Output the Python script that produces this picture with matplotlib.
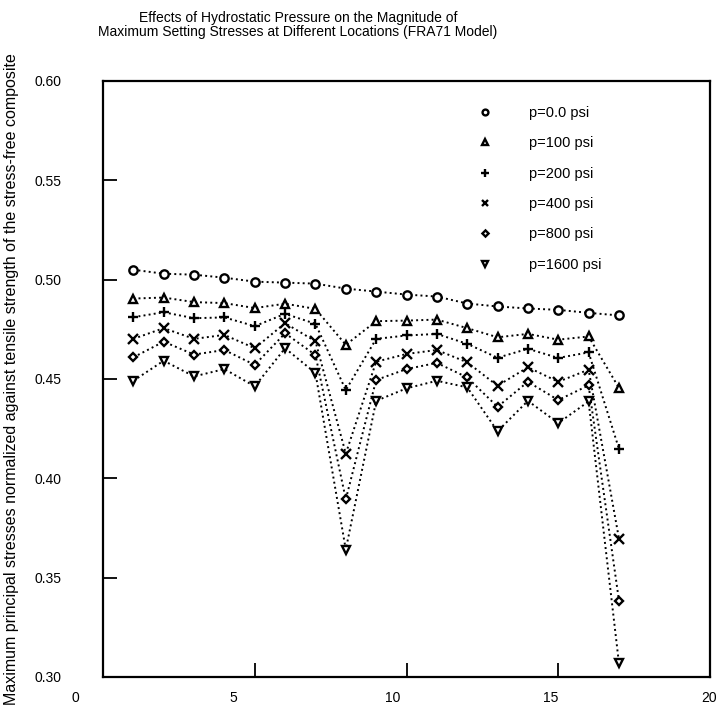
import matplotlib
matplotlib.use('Agg')
import matplotlib.pyplot as plt
from matplotlib.transforms import ScaledTranslation

plt.rcParams['font.family'] = ['Liberation Sans', 'DejaVu Sans']

# ── data ────────────────────────────────────────────────────────
locations = list(range(1, 18))

p0 = [0.505, 0.503, 0.5025, 0.501, 0.499, 0.4985, 0.498, 0.4955, 0.494,
      0.4925, 0.4915, 0.488, 0.4865, 0.4855, 0.4848, 0.4833, 0.482]
p100 = [0.4905, 0.491, 0.4887, 0.4882, 0.4857, 0.4879, 0.4853, 0.4672, 0.4791,
        0.4794, 0.4799, 0.4756, 0.471, 0.4727, 0.4698, 0.4714, 0.4455]
p200 = [0.4811, 0.4836, 0.4806, 0.481, 0.4766, 0.4828, 0.4778, 0.4444, 0.4702,
        0.4719, 0.4727, 0.4677, 0.4607, 0.4652, 0.4606, 0.4634, 0.4149]
p400 = [0.4702, 0.4756, 0.4702, 0.4722, 0.4655, 0.4781, 0.469, 0.4124, 0.4587,
        0.4626, 0.4646, 0.4584, 0.4466, 0.4559, 0.4486, 0.4547, 0.3697]
p800 = [0.4609, 0.4688, 0.4623, 0.4646, 0.4571, 0.473, 0.4621, 0.3894, 0.4495,
        0.455, 0.4581, 0.4508, 0.436, 0.4486, 0.4394, 0.4468, 0.3385]
p1600 = [0.4491, 0.4592, 0.4513, 0.455, 0.4463, 0.4655, 0.453, 0.3641, 0.439,
         0.4453, 0.4491, 0.4458, 0.4237, 0.439, 0.4278, 0.4387, 0.3069]

series = [p0, p100, p200, p400, p800, p1600]
labels = ['p=0.0 psi', 'p=100 psi', 'p=200 psi', 'p=400 psi',
          'p=800 psi', 'p=1600 psi']
markers = ['o', '^', '+', 'x', 'D', 'v']
msizes = [6, 6, 7.5, 7, 4.5, 6]

xticks = [0, 5, 10, 15, 20]
yticks = [0.30, 0.35, 0.40, 0.45, 0.50, 0.55, 0.60]

# ── figure ──────────────────────────────────────────────────────
fig = plt.figure(figsize=(7.22, 7.17), dpi=100)
ax = fig.add_axes([103/722, 1 - 677/717, 607/722, 596/717])

for vals, lab, m, ms in zip(series, labels, markers, msizes):
    ax.plot(locations, vals, linestyle=':', color='black', linewidth=1.4,
            marker=m, markersize=ms, markerfacecolor='white',
            markeredgecolor='black', markeredgewidth=1.7, label=lab)

ax.set_xlim(0, 20)
ax.set_ylim(0.30, 0.60)
ax.set_xticks(xticks)
ax.set_yticks(yticks)
ax.set_yticklabels([f'{v:.2f}' for v in yticks])

ax.tick_params(axis='both', direction='in', length=10, width=1.3,
               labelsize=10)
ax.tick_params(axis='y', pad=30)
ax.tick_params(axis='x', pad=10)
for s in ax.spines.values():
    s.set_linewidth(1.6)

# the old plot has its x labels drifted to the left of the ticks
shifts = [-28, -21, -14, -8, -1]
for lab, dx in zip(ax.get_xticklabels(), shifts):
    lab.set_transform(lab.get_transform() +
                      ScaledTranslation(dx / 100, 0, fig.dpi_scale_trans))

ax.set_ylabel('Maximum principal stresses normalized against tensile '
              'strength of the stress-free composite', fontsize=11.5)
ax.yaxis.set_label_coords(-84/607, 0.5)

fig.text(298/722, 1 - 25/717,
         'Effects of Hydrostatic Pressure on the Magnitude of\n'
         'Maximum Setting Stresses at Different Locations (FRA71 Model)',
         ha='center', va='center', fontsize=10, linespacing=1.05)

leg = ax.legend(loc='upper left', bbox_to_anchor=(0.618, 0.958),
                frameon=False, fontsize=10.5, handlelength=1.0,
                handletextpad=2.5, labelspacing=1.12, borderpad=0,
                borderaxespad=0, markerscale=0.7)
for h in leg.legend_handles:
    h.set_linestyle('None')

fig.savefig('out.png', dpi=100)
